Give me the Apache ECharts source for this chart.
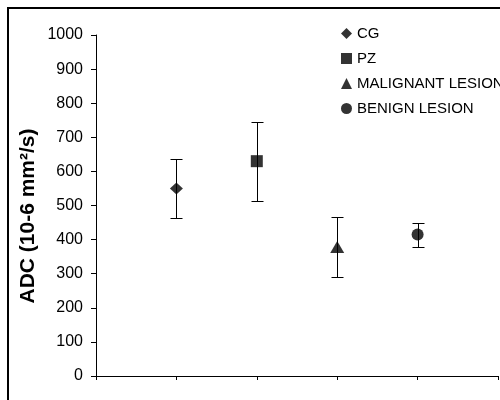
<!DOCTYPE html>
<html>
<head>
<meta charset="utf-8">
<script src="https://cdn.jsdelivr.net/npm/echarts@6/dist/echarts.min.js"></script>
<style>
html,body{margin:0;padding:0;background:#fff;}
#container{width:500px;height:400px;}
</style>
</head>
<body>
<div id="container"></div>
<script>
// groups, position on x axis, mean and error bar ends
var groups = ['CG', 'PZ', 'MALIGNANT LESION', 'BENIGN LESION'];
var xPos = [1, 2, 3, 4];
var means = [550, 630, 378, 415];
var lower = [463, 513, 290, 378];
var upper = [635, 745, 465, 448];
var symbols = ['diamond', 'rect', 'triangle', 'circle'];
var symbolSizes = [[13, 12], [12, 12], [14, 12], [12, 12]];
var yTicks = [0, 100, 200, 300, 400, 500, 600, 700, 800, 900, 1000];
var yTitle = 'ADC (10-6 mm²/s)';

var dom = document.getElementById("container");
var myChart = echarts.init(dom);
var font = 'Liberation Sans, Arial, sans-serif';

var series = [];
var errData = [];
for (var i = 0; i < groups.length; i++) {
    errData.push([xPos[i], lower[i], upper[i]]);
    series.push({
        name: groups[i],
        type: 'scatter',
        symbol: symbols[i],
        symbolSize: symbolSizes[i],
        itemStyle: {color: '#000'},
        z: 5,
        data: [[xPos[i], means[i]]]
    });
}
// error bars
series.push({
    type: 'custom',
    z: 2,
    renderItem: function (params, api) {
        var lo = api.coord([api.value(0), api.value(1)]);
        var hi = api.coord([api.value(0), api.value(2)]);
        var x = Math.round(lo[0]) + 0.5;
        var y1 = Math.round(lo[1]) + 0.5;
        var y2 = Math.round(hi[1]) + 0.5;
        var w = 6;
        var st = {stroke: '#000', lineWidth: 1};
        return {
            type: 'group',
            children: [
                {type: 'line', shape: {x1: x, y1: y1, x2: x, y2: y2}, style: st},
                {type: 'line', shape: {x1: x - w, y1: y1, x2: x + w, y2: y1}, style: st},
                {type: 'line', shape: {x1: x - w, y1: y2, x2: x + w, y2: y2}, style: st}
            ]
        };
    },
    data: errData
});

var legendData = [];
for (var j = 0; j < groups.length; j++) {
    legendData.push({name: groups[j], icon: symbols[j]});
}

var option = {
    backgroundColor: '#fff',
    animation: false,
    grid: {left: 96, top: 35, right: 2, bottom: 24},
    legend: {
        orient: 'vertical',
        left: 336,
        top: 21,
        itemWidth: 11,
        itemHeight: 11,
        itemGap: 10,
        data: legendData,
        textStyle: {fontFamily: font, fontSize: 15, color: '#000'}
    },
    xAxis: {
        type: 'value',
        min: 0,
        max: 5,
        interval: 1,
        axisLine: {show: true, onZero: false, lineStyle: {color: '#000', width: 1}},
        axisTick: {show: true, inside: false, length: 4, lineStyle: {color: '#000'}},
        axisLabel: {show: false},
        splitLine: {show: false}
    },
    yAxis: {
        type: 'value',
        min: yTicks[0],
        max: yTicks[yTicks.length - 1],
        interval: yTicks[1] - yTicks[0],
        axisLine: {show: true, lineStyle: {color: '#000', width: 1}},
        axisTick: {show: true, inside: false, length: 5, lineStyle: {color: '#000'}},
        axisLabel: {
            margin: 13, fontFamily: font, fontSize: 16, color: '#000',
            formatter: function (v) { return String(v); }
        },
        splitLine: {show: false}
    },
    graphic: [
        {
            type: 'rect',
            shape: {x: 8, y: 8, width: 600, height: 600},
            style: {fill: 'none', stroke: '#000', lineWidth: 2}
        },
        {
            type: 'text',
            x: 28,
            y: 216,
            rotation: Math.PI / 2,
            style: {
                text: yTitle,
                fontFamily: font,
                fontSize: 21,
                fontWeight: 'bold',
                fill: '#000',
                textAlign: 'center',
                textVerticalAlign: 'middle'
            }
        }
    ],
    series: series
};
if (option && typeof option === "object") {
    myChart.setOption(option, true);
}
</script>
</body>
</html>
